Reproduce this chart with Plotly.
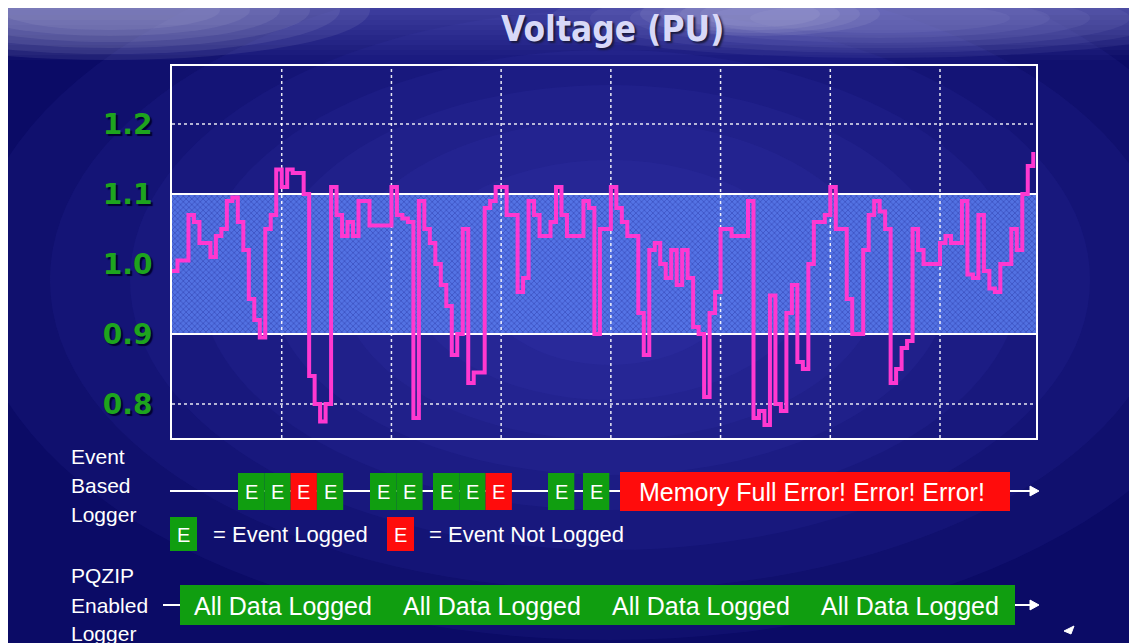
import plotly.graph_objects as go
import numpy as np

# ---------------- data ----------------
volt = [0.99, 1.005, 1.005, 1.07, 1.06, 1.03, 1.03, 1.01, 1.04, 1.05,
        1.09, 1.095, 1.06, 1.02, 0.95, 0.92, 0.895, 1.05, 1.07, 1.135,
        1.11, 1.135, 1.13, 1.13, 1.10, 0.84, 0.80, 0.775, 0.80, 1.11,
        1.07, 1.04, 1.06, 1.04, 1.09, 1.09, 1.055, 1.055, 1.055, 1.055,
        1.11, 1.07, 1.065, 1.06, 0.78, 1.09, 1.05, 1.03, 1.00, 0.97,
        0.94, 0.87, 0.90, 1.05, 0.83, 0.845, 0.845, 1.08, 1.09, 1.11,
        1.11, 1.07, 1.07, 0.96, 0.98, 1.09, 1.07, 1.04, 1.04, 1.06,
        1.11, 1.07, 1.04, 1.04, 1.04, 1.09, 1.08, 0.90, 1.05, 1.05,
        1.11, 1.08, 1.06, 1.04, 1.04, 0.93, 0.87, 1.02, 1.03, 1.00,
        0.98, 1.02, 0.97, 1.02, 0.98, 0.91, 0.90, 0.81, 0.93, 0.96,
        1.05, 1.05, 1.04, 1.04, 1.04, 1.09, 0.78, 0.79, 0.77, 0.955,
        0.80, 0.79, 0.93, 0.97, 0.86, 0.85, 1.00, 1.06, 1.06, 1.07,
        1.11, 1.05, 1.05, 0.95, 0.90, 0.90, 1.02, 1.07, 1.09, 1.075,
        1.05, 0.83, 0.85, 0.88, 0.89, 1.05, 1.02, 1.00, 1.00, 1.00,
        1.03, 1.04, 1.03, 1.03, 1.09, 0.985, 0.98, 1.07, 0.99, 0.965,
        0.96, 1.00, 1.00, 1.05, 1.02, 1.10, 1.14, 1.16]
sample_idx = list(range(len(volt)))

y_ticks = [0.8, 0.9, 1.0, 1.1, 1.2]
y_tick_labels = ["0.8", "0.9", "1.0", "1.1", "1.2"]
band_limits = [0.9, 1.1]
dotted_grid_levels = [0.8, 1.2]
x_grid_step = 20
x_max = 157.5
y_range = [0.7514, 1.2829]

title_text = "Voltage (PU)"
event_groups = [["L", "L", "N", "L"], ["L", "L"], ["L", "L", "N"], ["L"], ["L"]]
event_letter = "E"
memory_msg = "Memory Full Error! Error! Error!"
legend_items = [("L", "= Event Logged"), ("N", "= Event Not Logged")]
event_row_labels = ["Event", "Based", "Logger"]
pqzip_row_labels = ["PQZIP", "Enabled", "Logger"]
pqzip_segments = ["All Data Logged", "All Data Logged", "All Data Logged", "All Data Logged"]

# ---------------- layout geometry ----------------
# page coordinates (the page adds an 8px body margin around the figure)
W, H = 1137, 643
OFF = 8
PL, PR, PT, PB = 172, 1036, 66, 438     # plot box in page pixels


def fx(px):
    return (px - PL) / (PR - PL)


def fy(py):
    return (PB - py) / (PB - PT)


GREEN = "#109e10"
RED = "#ff0c0c"
WHITE = "#ffffff"
TXT_FONT = "Liberation Sans, Arial, sans-serif"

shapes = []
annotations = []


def rect(x0, y0, x1, y1, color, opacity=1.0, layer="below"):
    shapes.append(dict(type="rect", xref="paper", yref="paper",
                       x0=fx(x0), x1=fx(x1), y0=fy(y1), y1=fy(y0),
                       fillcolor=color, opacity=opacity, layer=layer,
                       line=dict(width=0)))


def ellipse(cx, cy, rx, ry, color, opacity, layer="below"):
    shapes.append(dict(type="circle", xref="paper", yref="paper",
                       x0=fx(cx - rx), x1=fx(cx + rx), y0=fy(cy + ry), y1=fy(cy - ry),
                       fillcolor=color, opacity=opacity, layer=layer, line=dict(width=0)))


def hline(x0, x1, y, color=WHITE, width=2, layer="above"):
    shapes.append(dict(type="line", xref="paper", yref="paper",
                       x0=fx(x0), x1=fx(x1), y0=fy(y), y1=fy(y),
                       line=dict(color=color, width=width), layer=layer))


def arrowhead(xtip, y, size=9, layer="above"):
    p = "M {:.5f},{:.5f} L {:.5f},{:.5f} L {:.5f},{:.5f} Z".format(
        fx(xtip), fy(y), fx(xtip - size), fy(y - size * 0.55), fx(xtip - size), fy(y + size * 0.55))
    shapes.append(dict(type="path", xref="paper", yref="paper", path=p,
                       fillcolor=WHITE, line=dict(color=WHITE, width=1), layer=layer))


def text(x, y, s, size, color=WHITE, xanchor="center", family=TXT_FONT, shadow=None):
    f = dict(family=family, size=size, color=color)
    if shadow:
        f["shadow"] = shadow
    annotations.append(dict(xref="paper", yref="paper", x=fx(x), y=fy(y), text=s,
                            showarrow=False, xanchor=xanchor, yanchor="middle", font=f))


# ---------------- background ----------------
# radial glow behind the chart
for rx, ry in [(640, 360), (560, 310), (480, 270), (410, 230),
               (340, 195), (270, 160), (200, 120), (130, 85)]:
    ellipse(610, 280, rx, ry, "#5a5ae6", 0.07)
# soft top banner (vertical fade)
for k in range(12):
    y0 = 0 + k * 5
    rect(0, y0, W + 20, y0 + 5, "#6a6ac8", 0.55 * (1 - k / 12.0))
# light haze patches in the banner
for k in range(6):
    ellipse(110, 10, 260 - k * 30, 50 - k * 6, "#d0d0e4", 0.09)
for k in range(6):
    ellipse(880, 18, 330 - k * 40, 40 - k * 5, "#b4b4ea", 0.08)
for k in range(4):
    ellipse(760, 14, 120 - k * 20, 22 - k * 3, "#e0e0f8", 0.08)

# small pointer mark at bottom right
shapes.append(dict(type="path", xref="paper", yref="paper",
                   path="M {:.5f},{:.5f} L {:.5f},{:.5f} L {:.5f},{:.5f} Z".format(
                       fx(1074), fy(626), fx(1064), fy(631), fx(1071), fy(634)),
                   fillcolor=WHITE, line=dict(color=WHITE, width=1), layer="above"))

# ---------------- traces ----------------
fig = go.Figure()

fig.add_trace(go.Scatter(x=[0, x_max], y=[band_limits[0]] * 2, mode="lines",
                         line=dict(color=WHITE, width=2), hoverinfo="skip", showlegend=False))
fig.add_trace(go.Scatter(x=[0, x_max], y=[band_limits[1]] * 2, mode="lines",
                         line=dict(color=WHITE, width=2), fill="tonexty",
                         fillcolor="rgba(92,128,238,0.85)",
                         fillpattern=dict(shape="x", size=4, solidity=0.3,
                                          fgcolor="rgba(25,35,140,0.5)",
                                          bgcolor="rgba(92,128,242,0.85)",
                                          fillmode="replace"),
                         hoverinfo="skip", showlegend=False))

# dotted grid lines (drawn above the band)
gx, gy = [], []
for g in np.arange(x_grid_step, x_max, x_grid_step):
    gx += [g, g, None]
    gy += [y_range[0], y_range[1], None]
for lvl in dotted_grid_levels:
    gx += [0, x_max, None]
    gy += [lvl, lvl, None]
fig.add_trace(go.Scatter(x=gx, y=gy, mode="lines",
                         line=dict(color="rgba(255,255,255,0.9)", width=1.5, dash="dot"),
                         hoverinfo="skip", showlegend=False))

fig.add_trace(go.Scatter(x=sample_idx, y=volt, mode="lines",
                         line=dict(color="#ff38d0", width=4, shape="hv"),
                         showlegend=False, name="Voltage"))

# ---------------- title ----------------
text(612, 29, "<b>" + title_text + "</b>", 35, color="#d8d8f8",
     family="DejaVu Sans Condensed, Liberation Sans Narrow, sans-serif",
     shadow="2px 2px 2px #1a1a40")

# ---------------- event based logger row ----------------
ROW_Y = 491
BOX_TOP, BOX_BOT = 473, 510
hline(170, 1030, ROW_Y)
arrowhead(1039, ROW_Y)
group_starts = [238, 370, 433, 548, 583]
cell_w = 26.3
for start, grp in zip(group_starts, event_groups):
    for k, st in enumerate(grp):
        x0 = start + k * cell_w
        rect(x0, BOX_TOP, x0 + cell_w, BOX_BOT, GREEN if st == "L" else RED, layer="above")
        text(x0 + cell_w / 2, ROW_Y + 1, event_letter, 20)
rect(620, BOX_TOP - 1, 1010, BOX_BOT + 1, RED, layer="above")
text(812, ROW_Y + 1, memory_msg, 25)

for lbl, yy in zip(event_row_labels, [456, 485, 514]):
    text(69, yy, lbl, 21, xanchor="left")

# legend
LEG_TOP, LEG_BOT = 517, 551
leg_box_x = [170, 387]
leg_text_x = [211, 427]
for (st, desc), bx, tx in zip(legend_items, leg_box_x, leg_text_x):
    rect(bx, LEG_TOP, bx + 27, LEG_BOT, GREEN if st == "L" else RED, layer="above")
    text(bx + 13.5, (LEG_TOP + LEG_BOT) / 2 + 1, event_letter, 20)
    text(tx, (LEG_TOP + LEG_BOT) / 2, desc, 22, xanchor="left")

# ---------------- PQZIP row ----------------
PQ_Y = 605
for lbl, yy in zip(pqzip_row_labels, [575, 605, 633]):
    text(69, yy, lbl, 21, xanchor="left")
hline(163, 180, PQ_Y)
hline(1015, 1030, PQ_Y)
arrowhead(1039, PQ_Y)
bar_x0, bar_x1 = 180, 1015
rect(bar_x0, 585, bar_x1, 625, GREEN, layer="above")
seg_w = (bar_x1 - bar_x0) / len(pqzip_segments)
for k, s in enumerate(pqzip_segments):
    text(bar_x0 + seg_w * (k + 0.5) - 1, PQ_Y + 1, s, 25)

# ---------------- layout ----------------
fig.update_layout(
    width=W, height=H,
    margin=dict(l=PL - OFF, r=W - (PR - OFF), t=PT - OFF, b=H - (PB - OFF), pad=0),
    paper_bgcolor="#0b0b66",
    plot_bgcolor="rgba(0,0,0,0)",
    shapes=shapes,
    annotations=annotations,
    showlegend=False,
    xaxis=dict(range=[0, x_max], showgrid=False, zeroline=False, showticklabels=False,
               showline=True, mirror=True, linecolor=WHITE, linewidth=2, ticks=""),
    yaxis=dict(range=y_range, tickvals=y_ticks,
               ticktext=["<b>" + t + "</b>" for t in y_tick_labels],
               tickfont=dict(family="DejaVu Sans, Verdana, sans-serif", size=28,
                             color="#1ea41e", shadow="2px 2px 1px #000030"),
               showgrid=False, zeroline=False, showline=True, mirror=True,
               linecolor=WHITE, linewidth=2, ticks="", ticklabelstandoff=12),
)

fig.write_html("out.html")
